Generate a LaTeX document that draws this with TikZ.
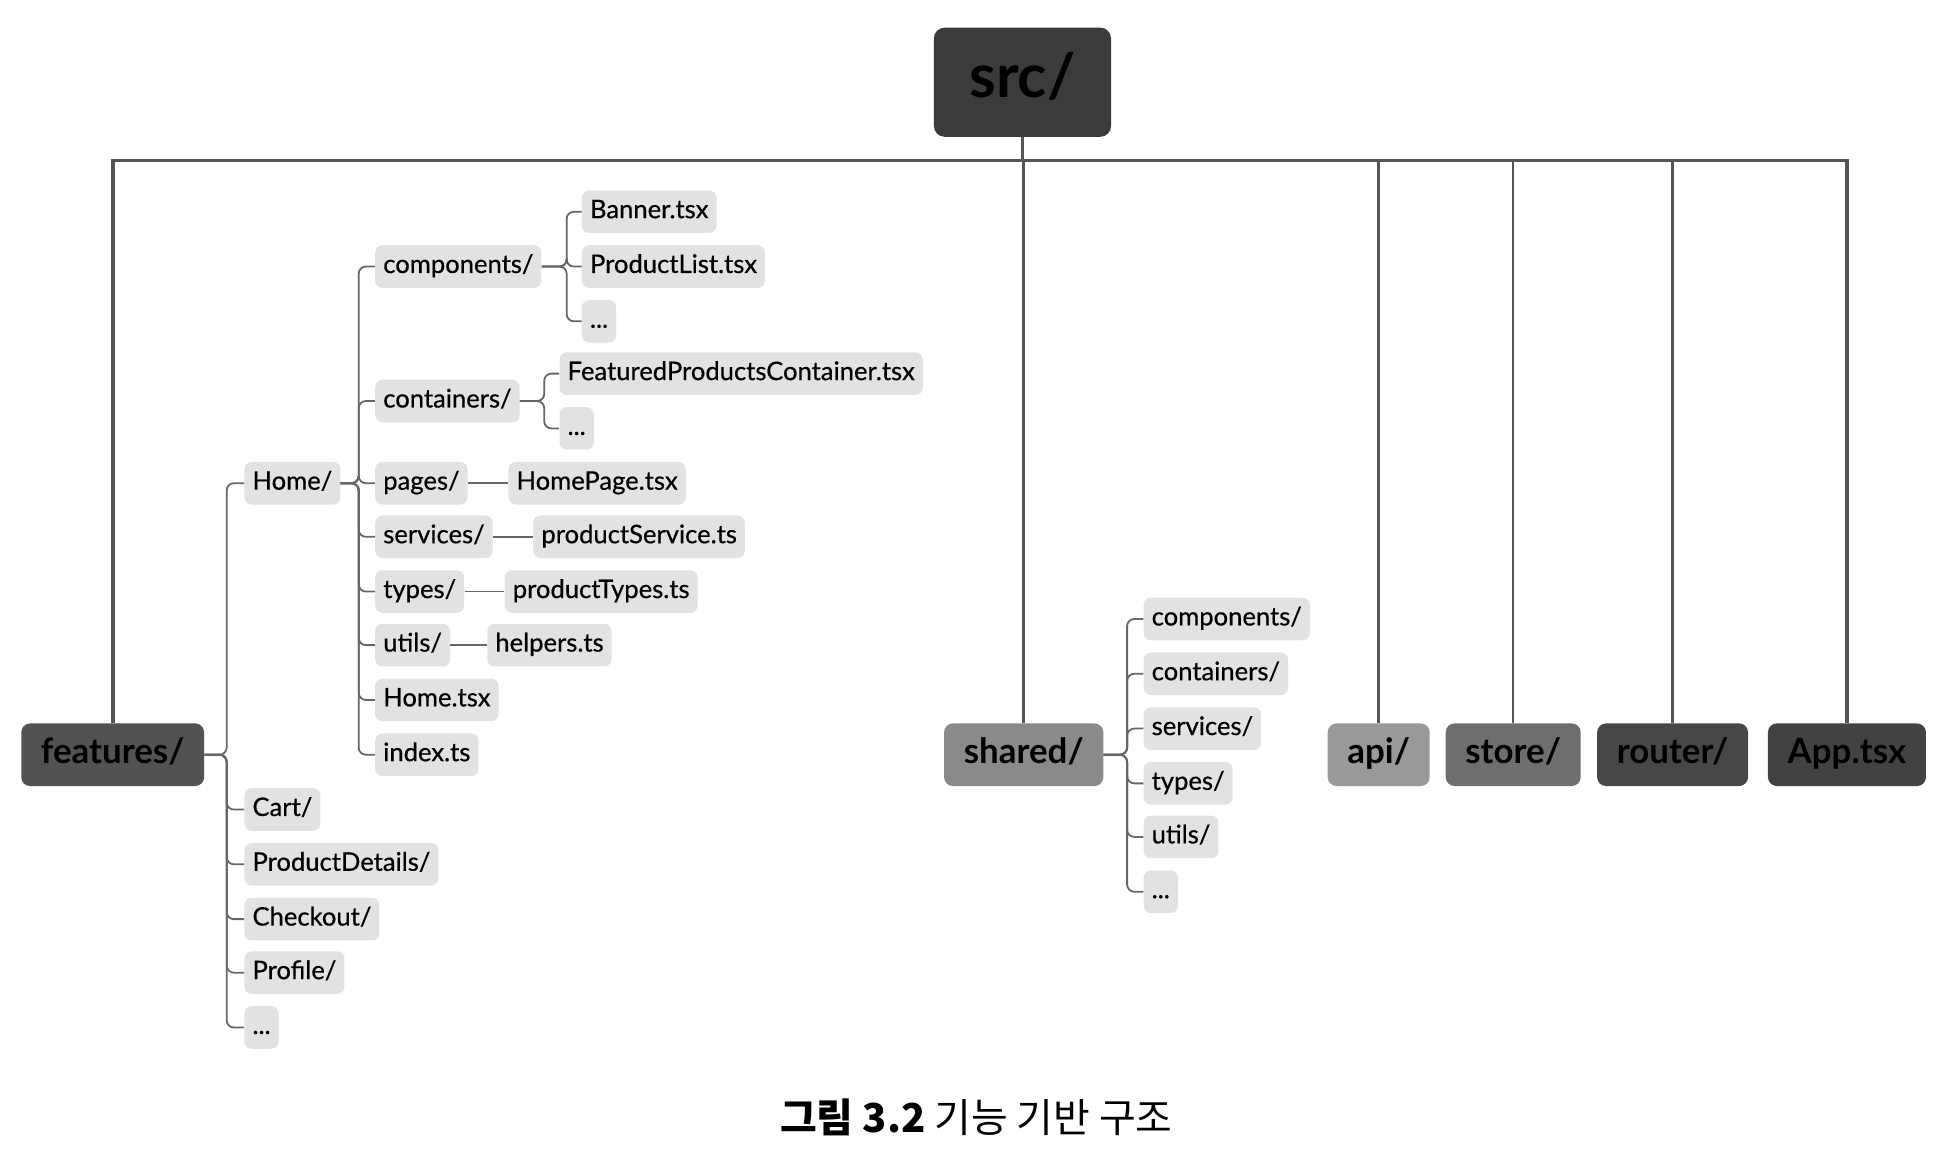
\documentclass[tikz,border=0pt]{standalone}
\usepackage{fontspec}
\setmainfont{Lato}
\newfontfamily\labelfont{Lato}[FakeBold=0.5]
\newfontfamily\krfont{Noto Sans CJK KR}
\usepackage{tikz}
\usetikzlibrary{calc}
\definecolor{leafgray}{HTML}{E2E2E2}
\definecolor{linegray}{HTML}{666666}
\definecolor{busgray}{HTML}{555555}
\tikzset{
  leaf/.style={fill=leafgray, rounded corners=4pt, anchor=west, inner xsep=4.5pt,
    minimum height=23.8pt, text height=10.2pt, text depth=3pt,
    font=\labelfont\fontsize{14.3}{16}\selectfont},
  dir/.style={rounded corners=5pt, minimum height=35pt, inner xsep=11pt,
    text height=13.8pt, text depth=3.8pt, font=\fontsize{19.5}{22}\bfseries\selectfont},
  branch/.style={draw=linegray, line width=1pt, rounded corners=4pt},
  bus/.style={draw=busgray, line width=2pt},
  drop/.style={draw=busgray, line width=1.4pt},
}

\begin{document}
\begin{tikzpicture}[x=0.696pt, y=-0.696pt]
\useasboundingbox (0pt,0pt) rectangle (1092pt,-651.7pt);

\node[dir, fill=black!77, minimum width=99pt, minimum height=61pt, rounded corners=6pt,
  text height=24pt, text depth=7pt, font=\fontsize{34}{36}\bfseries\selectfont] (src) at (821,66) {src/};

\node[dir, fill=black!68] (features) at (90.5,606) {features/};
\node[dir, fill=black!46] (shared) at (822,606) {shared/};
\node[dir, fill=black!40] (api) at (1107,606) {api/};
\node[dir, fill=black!57] (store) at (1215,606) {store/};
\node[dir, fill=black!72] (router) at (1343,606) {router/};
\node[dir, fill=black!74] (apptsx) at (1483,606) {App.tsx};

\coordinate (hub) at (821,129);
\draw[drop] (src.south) -- (hub);
\draw[bus] (features.north) |- (hub) -| (apptsx.north);
\foreach \n in {shared,api,store,router}
  \draw[drop] (\n.north) -- (\n.north |- hub);

\foreach \n/\y/\t in {home/388/{Home/}, cart/650/{Cart/}, pdetails/694/{ProductDetails/},
    checkout/738/{Checkout/}, profile/781/{Profile/}, fdots/825/{...}} {
  \node[leaf] (\n) at (196,\y) {\t};
  \draw[branch] (\n.west) -- ++(-14,0) |- (features.east);
}

\foreach \n/\y/\t in {hcomp/214/{components/}, hcont/322/{containers/}, pages/388/{pages/},
    services/431/{services/}, types/475/{types/}, utils/518/{utils/},
    hometsx/562/{Home.tsx}, indexts/606/{index.ts}} {
  \node[leaf] (\n) at (301,\y) {\t};
  \draw[branch] (\n.west) -- ++(-13,0) |- (home.east);
}

\foreach \n/\y/\t in {banner/170/{Banner.tsx}, plist/214/{ProductList.tsx}, cdots/258/{...}} {
  \node[leaf] (\n) at (467,\y) {\t};
  \draw[branch] (\n.west) -- ++(-12,0) |- (hcomp.east);
}

\foreach \n/\y/\t in {featured/300/{FeaturedProductsContainer.tsx}, kdots/344/{...}} {
  \node[leaf] (\n) at (449,\y) {\t};
  \draw[branch] (\n.west) -- ++(-12,0) |- (hcont.east);
}

\node[leaf] (homepage) at (408,388) {HomePage.tsx};
\node[leaf] (psvc) at (428,431) {productService.ts};
\node[leaf] (ptypes) at (405,475) {productTypes.ts};
\node[leaf] (helpers) at (391,518) {helpers.ts};
\draw[branch] (pages) -- (homepage);
\draw[branch] (services) -- (psvc);
\draw[branch] (types) -- (ptypes);
\draw[branch] (utils) -- (helpers);

\foreach \n/\y/\t in {scomp/497/{components/}, scont/541/{containers/}, ssvc/585/{services/},
    stypes/629/{types/}, sutils/672/{utils/}, sdots/716/{...}} {
  \node[leaf] (\n) at (918,\y) {\t};
  \draw[branch] (\n.west) -- ++(-13,0) |- (shared.east);
}

\node[font=\krfont\fontsize{22.3}{25}\selectfont] (caption) at (784,897.5) {\textbf{그림 3.2} 기능 기반 구조};
\end{tikzpicture}
\end{document}
